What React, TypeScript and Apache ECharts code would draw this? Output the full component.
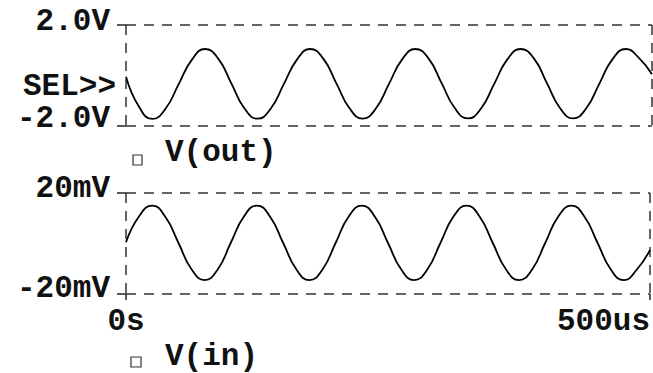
import React, { useEffect, useRef } from "react";
import * as echarts from "echarts";

// Sample times (us)
const timeUs = [
  0, 12.5, 25, 37.5, 50, 62.5, 75, 87.5,
  100, 112.5, 125, 137.5, 150, 162.5, 175, 187.5,
  200, 212.5, 225, 237.5, 250, 262.5, 275, 287.5,
  300, 312.5, 325, 337.5, 350, 362.5, 375, 387.5,
  400, 412.5, 425, 437.5, 450, 462.5, 475, 487.5,
  500,
];

// V(out) in volts
const vOut = [
  -0.05, -1.25, -1.72, -1.32, -0.35, 0.62, 1.05, 0.68,
  -0.3, -1.3, -1.71, -1.32, -0.34, 0.63, 1.05, 0.67,
  -0.31, -1.3, -1.71, -1.31, -0.33, 0.64, 1.05, 0.68,
  -0.3, -1.29, -1.7, -1.31, -0.33, 0.64, 1.05, 0.69,
  -0.29, -1.29, -1.7, -1.3, -0.32, 0.65, 1.05, 0.7,
  0.05,
];

// V(in) in millivolts
const vIn = [
  0.5, 10.8, 15.0, 10.6, 0.3, -10.2, -14.5, -10.3,
  0.3, 10.7, 15.0, 10.6, 0.2, -10.2, -14.5, -10.3,
  0.2, 10.7, 15.0, 10.6, 0.2, -10.2, -14.5, -10.3,
  0.2, 10.7, 15.0, 10.6, 0.2, -10.2, -14.5, -10.3,
  0.2, 10.7, 15.0, 10.6, 0.2, -10.2, -14.5, -10.3,
  -2.5,
];

const outTickValues = [-2, 2];
const outTickLabels = ["-2.0V", "2.0V"];
const inTickValues = [-20, 20];
const inTickLabels = ["-20mV", "20mV"];
const timeTickValues = [0, 500];
const timeTickLabels = ["0s", "500us"];
const outName = "V(out)";
const inName = "V(in)";
const selLabel = "SEL>>";

const FONT = "'Liberation Mono', 'DejaVu Sans Mono', monospace";
const FS = 31;

export default function App() {
  const ref = useRef<HTMLDivElement>(null);
  useEffect(() => {
    document.body.style.margin = "0";
    const chart = echarts.init(ref.current!, null, { renderer: "svg" });
    const outData = timeUs.map((t, i) => [t, vOut[i]]);
    const inData = timeUs.map((t, i) => [t, vIn[i]]);
    const dash = { color: "#333", width: 1.5, type: [10, 8] };
    const tickStyle = { color: "#222", width: 1.5 };
    const textStyle = {
      fontFamily: FONT,
      fontWeight: "bold" as const,
      fontSize: FS,
      color: "#111",
    };
    const baseX = {
      type: "value" as const,
      min: timeTickValues[0],
      max: timeTickValues[1],
      interval: timeTickValues[1] - timeTickValues[0],
      axisLine: { show: false, onZero: false },
      splitLine: { show: true, lineStyle: dash },
    };
    chart.setOption({
      animation: false,
      backgroundColor: "#ffffff",
      grid: [
        { left: 126, top: 25, width: 526, height: 101 },
        { left: 126, top: 193, width: 526, height: 101 },
      ],
      xAxis: [
        {
          ...baseX,
          gridIndex: 0,
          axisTick: { show: false },
          axisLabel: { show: false },
        },
        {
          ...baseX,
          gridIndex: 1,
          axisTick: { show: true, length: 6, lineStyle: tickStyle },
          axisLabel: {
            show: true,
            margin: 12,
            alignMinLabel: "center",
            alignMaxLabel: "right",
            formatter: (v: number) =>
              timeTickLabels[timeTickValues.indexOf(v)] ?? "",
            ...textStyle,
          },
        },
      ],
      yAxis: [
        {
          gridIndex: 0,
          type: "value",
          min: outTickValues[0],
          max: outTickValues[1],
          interval: outTickValues[1] - outTickValues[0],
          axisLine: { show: false, onZero: false },
          axisTick: { show: true, length: 9, lineStyle: tickStyle },
          axisLabel: { show: false },
          splitLine: { show: true, lineStyle: dash },
        },
        {
          gridIndex: 1,
          type: "value",
          min: inTickValues[0],
          max: inTickValues[1],
          interval: inTickValues[1] - inTickValues[0],
          axisLine: { show: false, onZero: false },
          axisTick: { show: true, length: 9, lineStyle: tickStyle },
          axisLabel: { show: false },
          splitLine: { show: true, lineStyle: dash },
        },
      ],
      series: [
        {
          name: outName,
          type: "line",
          xAxisIndex: 0,
          yAxisIndex: 0,
          data: outData,
          smooth: true,
          symbol: "none",
          lineStyle: { color: "#000", width: 1.8 },
        },
        {
          name: inName,
          type: "line",
          xAxisIndex: 1,
          yAxisIndex: 1,
          data: inData,
          smooth: true,
          symbol: "none",
          lineStyle: { color: "#000", width: 1.8 },
        },
      ],
    });

    const py = (axis: number, v: number) =>
      chart.convertToPixel({ yAxisIndex: axis }, v) as number;
    const txt = (text: string, x: number, y: number, align: string) => ({
      type: "text",
      x,
      y,
      silent: true,
      style: {
        text,
        align,
        verticalAlign: "middle",
        fontFamily: FONT,
        fontWeight: "bold",
        fontSize: FS,
        fill: "#111",
      },
    });
    const labelRight = 110;
    chart.setOption({
      graphic: [
        txt(outTickLabels[1], labelRight, py(0, outTickValues[1]) - 4, "right"),
        txt(outTickLabels[0], labelRight, py(0, outTickValues[0]) - 8, "right"),
        txt(selLabel, 116, 86.5, "right"),
        txt(inTickLabels[1], labelRight, py(1, inTickValues[1]) - 5, "right"),
        txt(inTickLabels[0], labelRight, py(1, inTickValues[0]) - 6, "right"),
        {
          type: "rect",
          silent: true,
          shape: { x: 133, y: 155, width: 9, height: 10 },
          style: { fill: "#fff", stroke: "#333", lineWidth: 1.2 },
        },
        txt(outName, 165, 152.5, "left"),
        {
          type: "rect",
          silent: true,
          shape: { x: 131, y: 357, width: 10, height: 10 },
          style: { fill: "#fff", stroke: "#333", lineWidth: 1.2 },
        },
        txt(inName, 165, 356, "left"),
      ],
    });
    return () => chart.dispose();
  }, []);
  return (
    <div
      ref={ref}
      style={{ position: "fixed", left: 0, top: 0, width: 653, height: 373 }}
    />
  );
}
